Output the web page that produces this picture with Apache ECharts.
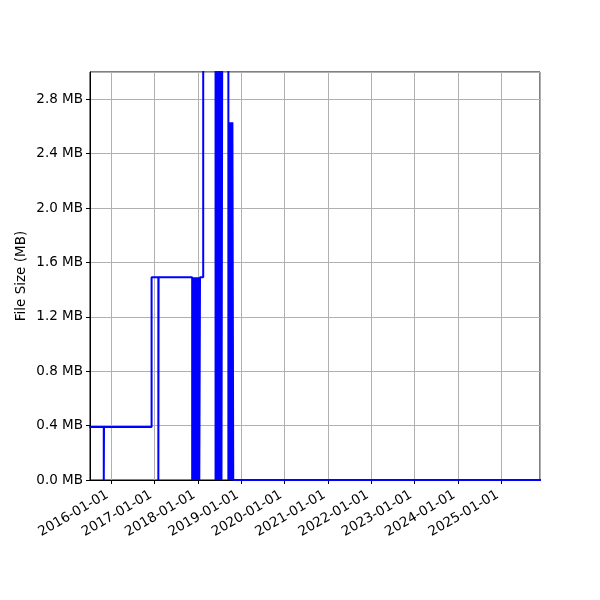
<!DOCTYPE html>
<html>
<head>
<meta charset="utf-8">
<script src="https://cdn.jsdelivr.net/npm/echarts@6/dist/echarts.min.js"></script>
<style>html,body{margin:0;padding:0;background:#fff;}#c{width:600px;height:600px;}</style>
</head>
<body>
<div id="c"></div>
<script>
// Change points (step-post): value holds until the next date
const dates = [
  '2015-07-01','2015-11-01','2015-11-03','2016-12-08','2017-02-03','2017-02-05',
  '2017-11-15','2017-11-20','2017-11-25','2017-11-30','2017-12-05','2017-12-10','2017-12-15',
  '2017-12-20','2017-12-25','2017-12-30','2018-01-04','2018-01-09','2018-01-14','2018-01-20',
  '2018-02-16',
  '2018-05-31','2018-06-05','2018-06-10','2018-06-15','2018-06-20','2018-06-25','2018-06-30',
  '2018-07-05','2018-07-10','2018-07-15','2018-07-20','2018-07-27',
  '2018-09-16','2018-09-22','2018-09-26','2018-09-30','2018-10-05','2018-10-10','2018-10-15',
  '2018-10-20','2018-10-27','2025-12-31'
];
const sizesMB = [
  0.39, 0, 0.39, 1.49, 0, 1.49,
  0, 1.49, 0, 1.49, 0, 1.49, 0,
  1.49, 0, 1.49, 0, 1.49, 0, 1.49,
  3.6,
  0, 3.6, 0, 3.6, 0, 3.6, 0,
  3.6, 0, 3.6, 0, 3.6,
  0, 2.63, 0, 2.63, 0, 2.63, 0,
  2.63, 0, 0
];
const xMin = '2015-07-08';
const xMax = '2025-11-24';
const yMax = 3.0;
const yStep = 0.4;

const chart = echarts.init(document.getElementById('c'));
const font = 'DejaVu Sans';
chart.setOption({
  animation: false,
  grid: { left: 90, right: 60, top: 72, bottom: 120, show: true, borderColor: '#000', borderWidth: 1, backgroundColor: 'transparent' },
  xAxis: {
    type: 'time',
    min: xMin, max: xMax,
    splitNumber: 10,
    axisLine: { show: true, lineStyle: { color: '#000', width: 1 } },
    axisTick: { show: true, length: 4, lineStyle: { color: '#000' } },
    splitLine: { show: true, lineStyle: { color: '#b0b0b0', width: 1 } },
    axisLabel: {
      rotate: 30, margin: 12, padding: [0, 4, 0, 0], color: '#000', fontFamily: font, fontSize: 13.5,
      showMinLabel: false, showMaxLabel: false,
      formatter: '{yyyy}-{MM}-{dd}'
    }
  },
  yAxis: {
    type: 'value', min: 0, max: yMax, interval: yStep,
    name: 'File Size (MB)', nameLocation: 'middle', nameGap: 62, nameMoveOverlap: false,
    nameTextStyle: { color: '#000', fontFamily: font, fontSize: 13.5 },
    axisLine: { show: true, lineStyle: { color: '#000', width: 1 } },
    axisTick: { show: true, length: 4, lineStyle: { color: '#000' } },
    splitLine: { show: true, lineStyle: { color: '#b0b0b0', width: 1 } },
    axisLabel: {
      margin: 7, color: '#000', fontFamily: font, fontSize: 13.5, showMaxLabel: false,
      formatter: v => v.toFixed(1) + ' MB'
    }
  },
  series: [{
    type: 'line',
    step: 'end',
    showSymbol: false,
    clip: true,
    lineStyle: { color: '#0000ff', width: 2 },
    data: dates.map((d, i) => [d, sizesMB[i]])
  }]
});
</script>
</body>
</html>
